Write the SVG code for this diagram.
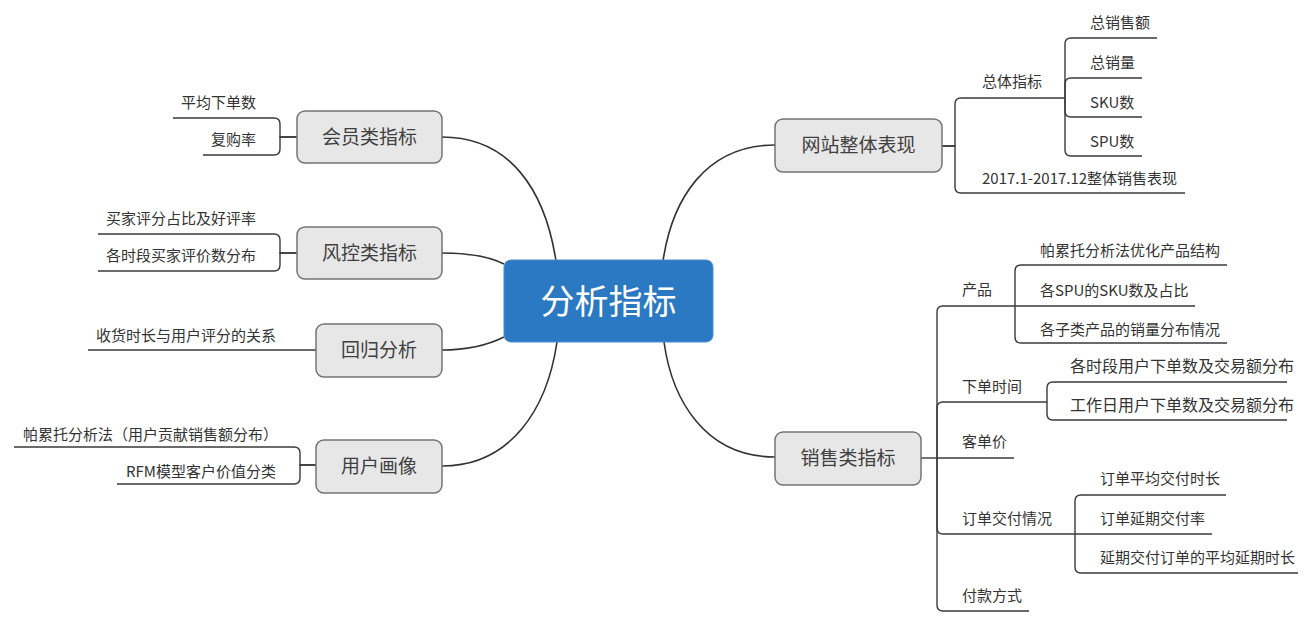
<svg xmlns="http://www.w3.org/2000/svg" width="1315" height="619" viewBox="0 0 1315 619">
<style>
.bg{fill:#ffffff}
.ln{fill:none;stroke:#3a3a3a;stroke-width:1.4}
.main{fill:none;stroke:#333333;stroke-width:1.6}
.box{fill:#e7e7e7;stroke:#747474;stroke-width:1.5}
.root{fill:#2b79c2;stroke:#4a8dd0;stroke-width:1}
text{font-family:"Noto Sans CJK SC","Noto Sans",sans-serif;fill:#333333}
.nt{font-size:19px;text-anchor:middle;fill:#404040}
.rt{font-size:34px;text-anchor:middle;fill:#ffffff}
.t{font-size:15px}
.tb{font-size:16px}
.e{text-anchor:end}
</style>
<rect class="bg" x="0" y="0" width="1315" height="619"/>
<g id="connectors">
<path class="main" d="M442,137 C510,137 545,190 556,261"/>
<path class="main" d="M442,253 C470,253 488,256 504,264"/>
<path class="main" d="M442,350 C470,350 488,345 504,337"/>
<path class="main" d="M442,466 C510,466 547,410 557,342"/>
<path class="main" d="M775,145 C705,145 672,200 663,261"/>
<path class="main" d="M775,457 C705,457 672,400 664,342"/>
<path class="ln" d="M297,137 H280 V124 Q280,118 274,118 H173"/>
<path class="ln" d="M297,137 H280 V149 Q280,155 274,155 H203"/>
<path class="ln" d="M297,253 H280 V240 Q280,234 274,234 H98"/>
<path class="ln" d="M297,253 H280 V265 Q280,271 274,271 H98"/>
<path class="ln" d="M316,350 H88"/>
<path class="ln" d="M316,465 H300 V453 Q300,447 294,447 H14"/>
<path class="ln" d="M316,465 H300 V478 Q300,484 294,484 H117"/>
<path class="ln" d="M942,146 H955 V104 Q955,98 961,98 H1065"/>
<path class="ln" d="M942,146 H955 V187 Q955,193 961,193 H1185"/>
<path class="ln" d="M1065,98 V44 Q1065,38 1071,38 H1157"/>
<path class="ln" d="M1065,98 V84 Q1065,78 1071,78 H1142"/>
<path class="ln" d="M1065,98 V111 Q1065,117 1071,117 H1142"/>
<path class="ln" d="M1065,98 V150 Q1065,156 1071,156 H1142"/>
<path class="ln" d="M921,458 H937"/>
<path class="ln" d="M937,458 V312 Q937,306 943,306 H1015"/>
<path class="ln" d="M937,458 V408 Q937,402 943,402 H1047"/>
<path class="ln" d="M937,458 H1014"/>
<path class="ln" d="M937,458 V528 Q937,534 943,534 H1075"/>
<path class="ln" d="M937,458 V605 Q937,611 943,611 H1029"/>
<path class="ln" d="M1015,306 V271 Q1015,265 1021,265 H1227"/>
<path class="ln" d="M1015,306 H1195"/>
<path class="ln" d="M1015,306 V337 Q1015,343 1021,343 H1227"/>
<path class="ln" d="M1047,402 V388 Q1047,382 1053,382 H1287"/>
<path class="ln" d="M1047,402 V414 Q1047,420 1053,420 H1287"/>
<path class="ln" d="M1075,534 V501 Q1075,495 1081,495 H1226"/>
<path class="ln" d="M1075,534 H1212"/>
<path class="ln" d="M1075,534 V567 Q1075,573 1081,573 H1298"/>
</g>
<g id="root">
<rect class="root" x="504" y="260" width="209" height="82" rx="7"/>
<text class="rt" x="608.5" y="314">分析指标</text>
</g>
<g id="n-member">
<rect class="box" x="297" y="111" width="145" height="52" rx="8"/>
<text class="nt" x="369.5" y="144">会员类指标</text>
<text class="t e" x="256" y="108">平均下单数</text>
<text class="t e" x="256" y="145">复购率</text>
</g>
<g id="n-risk">
<rect class="box" x="297" y="227" width="145" height="52" rx="8"/>
<text class="nt" x="369.5" y="260">风控类指标</text>
<text class="t e" x="256" y="224">买家评分占比及好评率</text>
<text class="t e" x="256" y="261">各时段买家评价数分布</text>
</g>
<g id="n-reg">
<rect class="box" x="316" y="324" width="126" height="53" rx="8"/>
<text class="nt" x="379" y="357">回归分析</text>
<text class="t e" x="276" y="341">收货时长与用户评分的关系</text>
</g>
<g id="n-user">
<rect class="box" x="316" y="440" width="126" height="53" rx="8"/>
<text class="nt" x="379" y="473">用户画像</text>
<text class="t e" x="278" y="440">帕累托分析法（用户贡献销售额分布）</text>
<text class="t e" x="276" y="477">RFM模型客户价值分类</text>
</g>
<g id="n-site">
<rect class="box" x="775" y="119" width="167" height="53" rx="8"/>
<text class="nt" x="858.5" y="152">网站整体表现</text>
<text class="t" x="982" y="87">总体指标</text>
<text class="t" x="982" y="184">2017.1-2017.12整体销售表现</text>
<text class="t" x="1090" y="28">总销售额</text>
<text class="t" x="1090" y="68">总销量</text>
<text class="t" x="1090" y="108">SKU数</text>
<text class="t" x="1090" y="147">SPU数</text>
</g>
<g id="n-sales">
<rect class="box" x="775" y="432" width="146" height="53" rx="8"/>
<text class="nt" x="848" y="465">销售类指标</text>
<text class="t" x="962" y="295">产品</text>
<text class="t" x="962" y="392">下单时间</text>
<text class="t" x="962" y="447">客单价</text>
<text class="t" x="962" y="524">订单交付情况</text>
<text class="t" x="962" y="601">付款方式</text>
<text class="t" x="1040" y="256">帕累托分析法优化产品结构</text>
<text class="t" x="1040" y="296">各SPU的SKU数及占比</text>
<text class="t" x="1040" y="335">各子类产品的销量分布情况</text>
<text class="tb" x="1070" y="372">各时段用户下单数及交易额分布</text>
<text class="tb" x="1070" y="411">工作日用户下单数及交易额分布</text>
<text class="t" x="1100" y="484">订单平均交付时长</text>
<text class="t" x="1100" y="524">订单延期交付率</text>
<text class="t" x="1100" y="563">延期交付订单的平均延期时长</text>
</g>
</svg>
